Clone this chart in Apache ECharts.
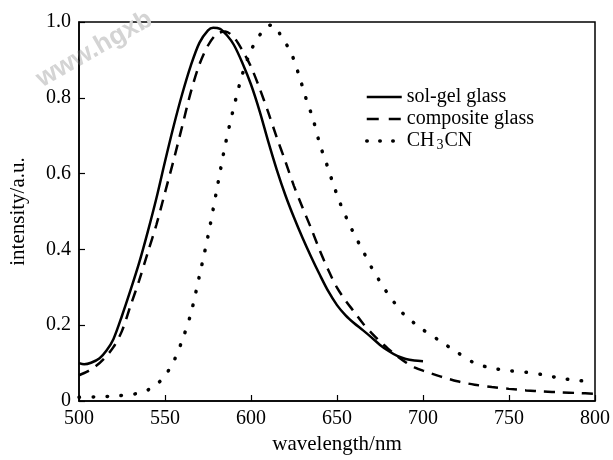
<!DOCTYPE html>
<html>
<head>
<meta charset="utf-8">
<script src="https://cdn.jsdelivr.net/npm/echarts@6/dist/echarts.min.js"></script>
<style>
  html, body { margin: 0; padding: 0; background: #fff; }
  #chart { width: 613px; height: 460px; }
</style>
</head>
<body>
<div id="chart"></div>
<script>
// 数据
const solX = [500, 503, 507, 512, 516, 520, 525, 530, 535, 540, 545, 550, 555, 560, 565, 570, 575, 578, 582, 586, 590, 595, 600, 605, 610, 615, 620, 625, 630, 635, 640, 645, 650, 655, 660, 665, 670, 675, 680, 685, 690, 695, 700];
const solY = [0.100, 0.097, 0.101, 0.113, 0.133, 0.163, 0.225, 0.293, 0.365, 0.447, 0.535, 0.632, 0.725, 0.810, 0.885, 0.945, 0.978, 0.985, 0.982, 0.965, 0.940, 0.892, 0.835, 0.765, 0.685, 0.610, 0.543, 0.484, 0.430, 0.380, 0.333, 0.289, 0.253, 0.226, 0.205, 0.187, 0.168, 0.148, 0.132, 0.119, 0.111, 0.107, 0.105];

const compX = [500, 505, 510, 515, 520, 525, 530, 535, 540, 545, 550, 555, 560, 565, 570, 575, 580, 585, 590, 595, 600, 605, 610, 615, 620, 625, 630, 635, 640, 645, 650, 655, 660, 665, 670, 675, 680, 685, 690, 695, 700, 710, 720, 730, 740, 750, 760, 770, 780, 790, 800];
const compY = [0.068, 0.078, 0.093, 0.114, 0.142, 0.185, 0.252, 0.318, 0.392, 0.465, 0.550, 0.635, 0.725, 0.815, 0.888, 0.938, 0.968, 0.975, 0.960, 0.925, 0.882, 0.825, 0.762, 0.695, 0.632, 0.567, 0.510, 0.455, 0.397, 0.345, 0.299, 0.265, 0.235, 0.205, 0.180, 0.157, 0.137, 0.118, 0.102, 0.089, 0.080, 0.065, 0.052, 0.043, 0.037, 0.032, 0.028, 0.025, 0.023, 0.021, 0.019];

const ch3X = [500, 510, 520, 530, 535, 540, 545, 550, 555, 560, 565, 570, 575, 580, 585, 590, 595, 600, 605, 610, 613, 618, 623, 628, 632, 636, 640, 644, 648, 652, 656, 660, 665, 670, 675, 680, 685, 690, 695, 700, 710, 720, 730, 740, 750, 760, 770, 780, 790, 800];
const ch3Y = [0.010, 0.011, 0.013, 0.017, 0.021, 0.029, 0.043, 0.067, 0.104, 0.160, 0.230, 0.330, 0.435, 0.555, 0.675, 0.775, 0.862, 0.925, 0.965, 0.990, 0.992, 0.958, 0.922, 0.858, 0.798, 0.745, 0.678, 0.625, 0.570, 0.520, 0.478, 0.440, 0.397, 0.353, 0.315, 0.280, 0.250, 0.223, 0.205, 0.188, 0.158, 0.128, 0.100, 0.087, 0.080, 0.076, 0.069, 0.060, 0.054, 0.051];

const seriesNames = ['sol-gel glass', 'composite glass', 'CH3CN'];
const xTicks = [500, 800, 50];   // min, max, interval
const yTicks = [0, 1, 0.2];

const FONT = '"Liberation Serif", "DejaVu Serif", serif';

// 三种线型：实线 / 虚线 / 点线
const lineStyles = [
  { color: '#000', width: 2.5, type: 'solid' },
  { color: '#000', width: 2.5, type: [11, 8] },
  { color: '#000', width: 3.5, type: [0.5, 13.5], cap: 'round' }
];

function pairs(xs, ys) {
  return xs.map((x, i) => [x, ys[i]]);
}

const chart = echarts.init(document.getElementById('chart'));

chart.setOption({
  backgroundColor: '#fff',
  animation: false,
  color: ['#000', '#000', '#000'],
  grid: {
    left: 78, right: 18, top: 22, bottom: 56,
    show: true, borderColor: '#000', borderWidth: 1.5, backgroundColor: 'transparent'
  },
  // 水印
  graphic: [{
    type: 'text',
    left: 32, top: 6,
    rotation: 0.52,
    style: {
      text: 'www.hgxb',
      fill: '#d4d4d4',
      font: 'bold 26px "Liberation Sans", Arial, sans-serif'
    }
  }],
  legend: {
    orient: 'vertical',
    left: 360, top: 82,
    itemWidth: 35, itemHeight: 12, itemGap: 2,
    data: seriesNames.map((n, i) => ({
      name: n,
      lineStyle: Object.assign({}, lineStyles[i], i === 1 ? { type: [12, 10] } : {}, i === 2 ? { type: [0.5, 12.5] } : {})
    })),
    itemStyle: { opacity: 0 },
    formatter: name => name === 'CH3CN' ? '{a|CH}{s|3}{a|CN}' : name,
    textStyle: {
      fontFamily: FONT, fontSize: 20, color: '#000',
      rich: {
        a: { fontFamily: FONT, fontSize: 20, color: '#000' },
        s: { fontFamily: FONT, fontSize: 14, color: '#000', padding: [8, 1, 0, 2] }
      }
    }
  },
  xAxis: {
    type: 'value',
    min: xTicks[0], max: xTicks[1], interval: xTicks[2],
    name: 'wavelength/nm',
    nameLocation: 'middle',
    nameGap: 33,
    nameTextStyle: { fontFamily: FONT, fontSize: 21, color: '#000' },
    axisLine: { show: true, lineStyle: { color: '#000', width: 1.5 } },
    axisTick: { show: true, inside: true, length: 6, lineStyle: { color: '#000', width: 1.2 } },
    axisLabel: { fontFamily: FONT, fontSize: 20, color: '#000', margin: 8 },
    splitLine: { show: false }
  },
  yAxis: {
    type: 'value',
    min: yTicks[0], max: yTicks[1], interval: yTicks[2],
    name: 'intensity/a.u.',
    nameLocation: 'middle',
    nameGap: 50,
    nameTextStyle: { fontFamily: FONT, fontSize: 21, color: '#000' },
    axisLine: { show: true, lineStyle: { color: '#000', width: 1.5 } },
    axisTick: { show: true, inside: true, length: 6, lineStyle: { color: '#000', width: 1.2 } },
    axisLabel: {
      fontFamily: FONT, fontSize: 20, color: '#000', margin: 8,
      formatter: v => v === 0 ? '0' : v.toFixed(1)
    },
    splitLine: { show: false }
  },
  series: [
    {
      name: seriesNames[0], type: 'line', smooth: 0.3, symbol: 'none',
      data: pairs(solX, solY),
      lineStyle: lineStyles[0]
    },
    {
      name: seriesNames[1], type: 'line', smooth: 0.3, symbol: 'none',
      data: pairs(compX, compY),
      lineStyle: lineStyles[1]
    },
    {
      name: seriesNames[2], type: 'line', smooth: 0.3, symbol: 'none',
      data: pairs(ch3X, ch3Y),
      lineStyle: lineStyles[2]
    }
  ]
});
</script>
</body>
</html>
